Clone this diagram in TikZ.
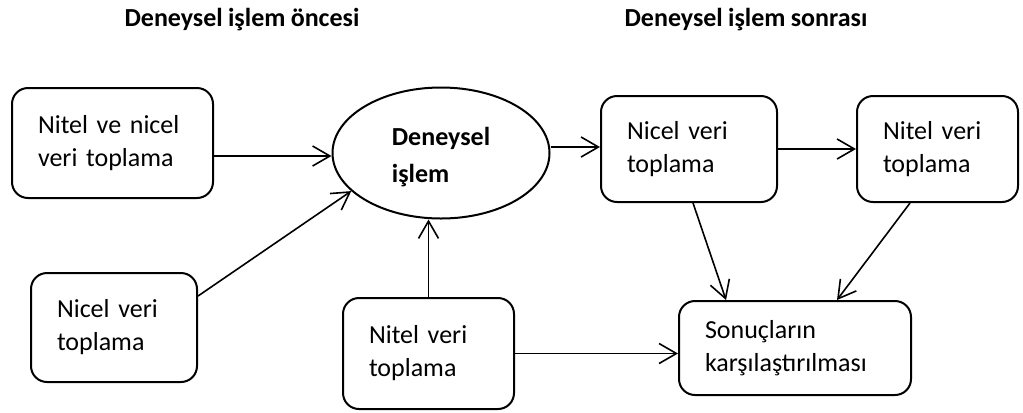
\documentclass[tikz,border=0pt]{standalone}
\usepackage{fontspec}
\setmainfont[WordSpace=0.9]{Carlito}
\usetikzlibrary{shapes.geometric,arrows.meta}

\begin{document}
\begin{tikzpicture}[x=0.75pt,y=-0.75pt,
		font=\fontsize{19.5pt}{24.75pt}\selectfont,
		kutu/.style={draw,line width=1.5pt,rounded corners=12pt,align=left,inner xsep=19.5pt,inner ysep=0pt},
		ok/.style={-{Straight Barb[length=13pt,width=15pt]},line width=1.2pt}]
	\useasboundingbox (0,0) rectangle (1023,412);
	% basliklar
	\node[anchor=base,font=\fontsize{19.5pt}{24pt}\selectfont\bfseries] (once) at (242,26) {Deneysel işlem öncesi};
	\node[anchor=base,font=\fontsize{19.5pt}{24pt}\selectfont\bfseries] (sonra) at (746,26) {Deneysel işlem sonrası};
	% kutular
	\node[kutu,text width=111.75pt,minimum height=82.5pt] (nn) at (112.5,143) {Nitel ve nicel\\veri toplama};
	\node[kutu,text width=85.5pt,minimum height=81.75pt] (nic1) at (114,327.5) {Nicel veri\\toplama};
	\node[kutu,text width=89.25pt,minimum height=83.25pt] (nit1) at (428.5,353.5) {Nitel veri\\toplama};
	\node[kutu,text width=93pt,minimum height=79.5pt] (nic2) at (689,149) {Nicel veri\\toplama};
	\node[kutu,text width=81.75pt,minimum height=79.5pt] (nit2) at (937.5,149) {Nitel veri\\toplama};
	\node[kutu,text width=135pt,minimum height=70.5pt] (sonuc) at (795,348) {Sonuçların\\karşılaştırılması};
	\node[draw,ellipse,line width=1.5pt,minimum width=162.75pt,minimum height=98.25pt,inner sep=0pt,align=left,font=\fontsize{19.5pt}{27.75pt}\selectfont\bfseries] (islem) at (441,153) {};
	\node[align=left,font=\fontsize{19.5pt}{27.75pt}\selectfont\bfseries] (islemyazi) at (441,157) {Deneysel\\işlem};
	% oklar
	\coordinate (nnc) at ([yshift=-9.75pt]nn.east);
	\coordinate (isc) at ([yshift=4.5pt]islem.east);
	\draw[ok] (nnc) -- (nnc -| islem.west);
	\draw[ok] ([yshift=23.6pt]nic1.east) -- (islem.203);
	\draw[ok] (nit1.north) -- (nit1.north |- islem.south);
	\draw[ok] (isc) -- (isc -| nic2.west);
	\draw[ok] (nic2.east) -- (nit2.west);
	\draw[ok] (nit1.east) -- (nit1.east -| sonuc.west);
	\draw[ok] ([xshift=3pt]nic2.south) -- ([xshift=36pt]sonuc.north west);
	\draw[ok] ([xshift=40.5pt]nit2.south west) -- ([xshift=-56.25pt]sonuc.north east);
\end{tikzpicture}
\end{document}
